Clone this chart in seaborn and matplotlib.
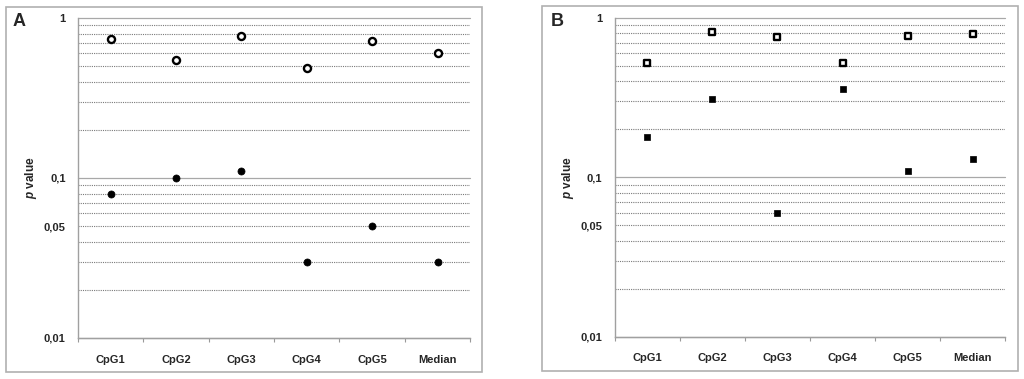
"""Per-site p values for two comparisons (panels A and B), log scale."""

import matplotlib
matplotlib.use("Agg")
import matplotlib.pyplot as plt
import matplotlib.ticker as mticker
from matplotlib.patches import Rectangle
import pandas as pd
import seaborn as sns

sns.set_theme(style="white")
plt.rcParams["font.family"] = ["Liberation Sans", "DejaVu Sans"]
plt.rcParams["mathtext.fontset"] = "custom"
plt.rcParams["mathtext.it"] = "Liberation Sans:bold:italic"
plt.rcParams["mathtext.rm"] = "Liberation Sans:bold"

sites = ["CpG1", "CpG2", "CpG3", "CpG4", "CpG5", "Median"]

# panel A (circles)
a_open = [0.74, 0.55, 0.77, 0.49, 0.72, 0.60]
a_filled = [0.08, 0.10, 0.11, 0.03, 0.05, 0.03]

# panel B (squares)
b_open = [0.52, 0.82, 0.76, 0.52, 0.77, 0.79]
b_filled = [0.18, 0.31, 0.06, 0.36, 0.11, 0.13]

y_labels = {1.0: "1", 0.1: "0,1", 0.05: "0,05", 0.01: "0,01"}


def fmt_tick(v, pos=None):
    for k, lab in y_labels.items():
        if abs(v - k) < 1e-9:
            return lab
    return ""


def draw_panel(ax, open_vals, filled_vals, marker, size):
    df = pd.DataFrame({"site": sites, "open": open_vals, "filled": filled_vals})
    sns.scatterplot(data=df, x="site", y="open", ax=ax, marker=marker, s=size,
                    facecolor="white", edgecolor="black", linewidth=1.7, zorder=3)
    sns.scatterplot(data=df, x="site", y="filled", ax=ax, marker=marker, s=size,
                    color="black", edgecolor="black", linewidth=0.5, zorder=3)

    ax.set_yscale("log")
    ax.set_ylim(0.01, 1)
    ax.set_xlim(-0.5, len(sites) - 0.5)

    ax.yaxis.set_major_locator(mticker.FixedLocator([0.01, 0.1, 1]))
    ax.yaxis.set_minor_locator(mticker.LogLocator(subs=range(2, 10)))
    ax.yaxis.set_major_formatter(mticker.FuncFormatter(fmt_tick))
    ax.yaxis.set_minor_formatter(mticker.FuncFormatter(fmt_tick))
    ax.grid(which="major", axis="y", color="#a8a8a8", linewidth=0.9, linestyle="-")
    ax.grid(which="minor", axis="y", color="#7a7a7a", linewidth=0.8, linestyle=(0, (1, 1)))
    ax.grid(False, axis="x", which="both")
    for gl in ax.get_ygridlines():
        gl.set_clip_on(False)

    ax.set_xticks(range(len(sites)))
    ax.set_xticklabels(sites)
    ax.set_xticks([i - 0.5 for i in range(len(sites) + 1)], minor=True)

    ax.tick_params(axis="y", which="major", length=3, width=0.8, color="#999999",
                   pad=6, labelsize=8)
    ax.tick_params(axis="y", which="minor", length=0, pad=9, labelsize=8)
    ax.tick_params(axis="x", which="major", length=0, pad=12, labelsize=8)
    ax.tick_params(axis="x", which="minor", length=3, width=0.8, color="#999999",
                   direction="out", bottom=True)
    for lab in ax.get_xticklabels() + ax.get_yticklabels() + ax.get_yticklabels(minor=True):
        lab.set_fontweight("bold")

    for side in ("top", "right"):
        ax.spines[side].set_visible(False)
    for side in ("left", "bottom"):
        ax.spines[side].set_color("#a0a0a0")
        ax.spines[side].set_linewidth(1.0)

    ax.set_xlabel("")
    ax.set_ylabel(r"$p$ value", fontsize=8.5, fontweight="bold")
    ax.yaxis.set_label_coords(-0.10, 0.5)


fig = plt.figure(figsize=(10.24, 3.79), dpi=100)
fig.patch.set_facecolor("white")

ax_a = fig.add_axes([0.0762, 0.1082, 0.383, 0.8443])
ax_b = fig.add_axes([0.6003, 0.1116, 0.3814, 0.8409])

draw_panel(ax_a, a_open, a_filled, "o", 26)
draw_panel(ax_b, b_open, b_filled, "s", 24)

# panel frames
for x0, y0 in [(0.00586, 0.0185), (0.5293, 0.0211)]:
    fig.patches.append(Rectangle((x0, y0), 0.4648, 0.963, transform=fig.transFigure,
                                 fill=False, edgecolor="#b0b0b0", linewidth=1.2))

fig.text(13 / 1024, 1 - 22 / 379, "A", fontsize=13, fontweight="bold", va="center")
fig.text(551 / 1024, 1 - 22 / 379, "B", fontsize=13, fontweight="bold", va="center")

fig.savefig("out.png", dpi=100, facecolor="white")
